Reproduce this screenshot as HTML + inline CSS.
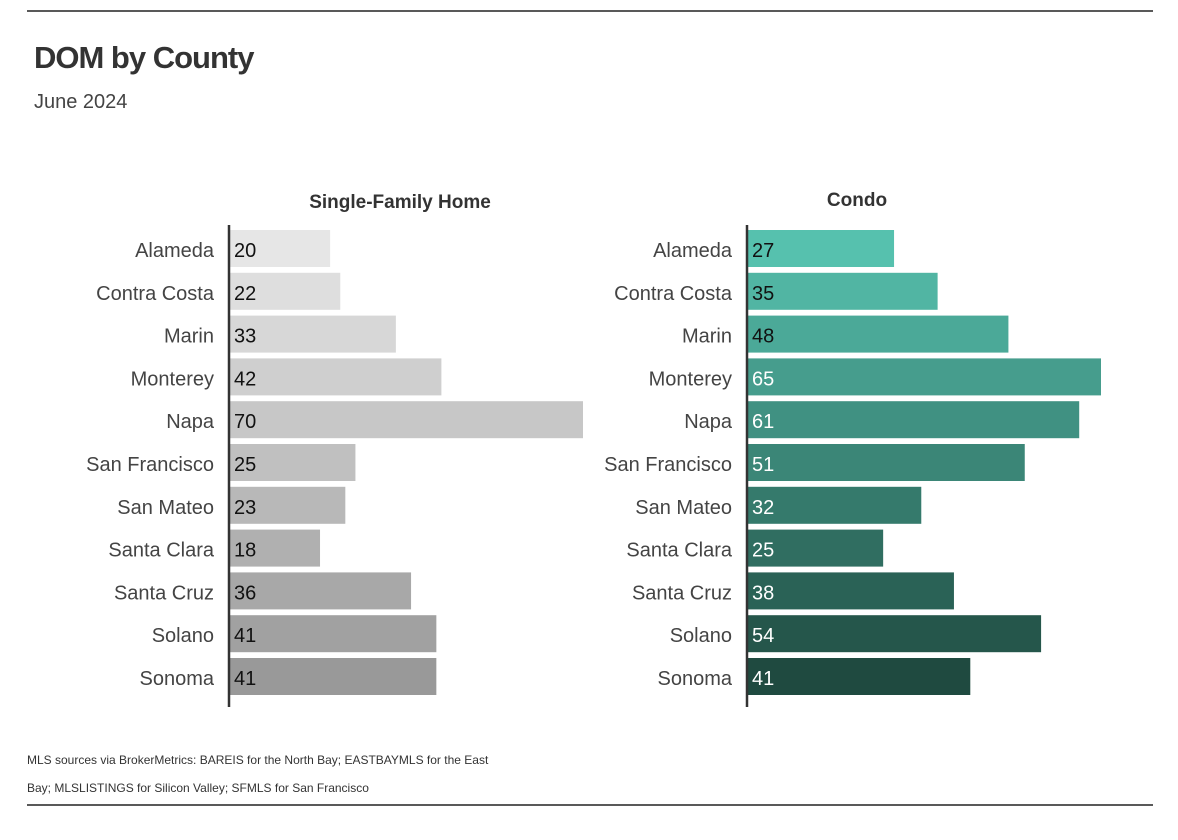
<!DOCTYPE html>
<html><head><meta charset="utf-8"><style>
body{margin:0;background:#fff;width:1178px;height:840px;overflow:hidden;font-family:"Liberation Sans",sans-serif}
</style></head><body>
<svg width="1178" height="840" style="position:absolute;left:0;top:0">
<line x1="27" y1="11" x2="1153" y2="11" stroke="#222" stroke-width="1.5"/>
<line x1="27" y1="805" x2="1153" y2="805" stroke="#222" stroke-width="1.5"/>
<text x="34" y="68" font-size="31" font-weight="bold" fill="#333" letter-spacing="-1">DOM by County</text>
<text x="34" y="108" font-size="20" fill="#444">June 2024</text>
<text x="400" y="208" font-size="19" font-weight="bold" fill="#333" text-anchor="middle">Single-Family Home</text>
<text x="857" y="206" font-size="19" font-weight="bold" fill="#333" text-anchor="middle">Condo</text>
<g id="left"></g>
<g id="right"></g>
<text x="27" y="764" font-size="12" fill="#333">MLS sources via BrokerMetrics: BAREIS for the North Bay; EASTBAYMLS for the East</text>
<text x="27" y="792" font-size="12" fill="#333">Bay; MLSLISTINGS for Silicon Valley; SFMLS for San Francisco</text>
</svg>
<script>
const counties=["Alameda","Contra Costa","Marin","Monterey","Napa","San Francisco","San Mateo","Santa Clara","Santa Cruz","Solano","Sonoma"];
const sfhValues=[20,22,33,42,70,25,23,18,36,41,41];
const condoValues=[27,35,48,65,61,51,32,25,38,54,41];
const NS="http://www.w3.org/2000/svg";
function lerp(a,b,t){return Math.round(a+(b-a)*t);}
function col(c1,c2,t){return `rgb(${lerp(c1[0],c2[0],t)},${lerp(c1[1],c2[1],t)},${lerp(c1[2],c2[2],t)})`;}
function panel(gid,axisX,vals,c1,c2,darkFrom,prefix){
  const g=document.getElementById(gid);
  const max=Math.max(...vals);
  const x=v=>v/max*354;
  const y=i=>249+i*42.8;
  vals.forEach((v,i)=>{
    const r=document.createElementNS(NS,"rect");
    r.setAttribute("x",axisX);r.setAttribute("y",y(i)-19);
    r.setAttribute("width",x(v));r.setAttribute("height",37);
    r.setAttribute("fill",col(c1,c2,i/(vals.length-1)));
    
    
    g.appendChild(r);
    const t=document.createElementNS(NS,"text");
    t.setAttribute("x",axisX+5);t.setAttribute("y",y(i)+8);
    t.setAttribute("font-size","20");
    t.setAttribute("fill",i>=darkFrom?"#fff":"#111");
    t.textContent=v;
    
    
    g.appendChild(t);
    const l=document.createElementNS(NS,"text");
    l.setAttribute("x",axisX-15);l.setAttribute("y",y(i)+8);
    l.setAttribute("font-size","20");l.setAttribute("fill","#444");
    l.setAttribute("text-anchor","end");
    l.textContent=counties[i];
    
    
    g.appendChild(l);
  });
  const a=document.createElementNS(NS,"line");
  a.setAttribute("x1",axisX);a.setAttribute("x2",axisX);
  a.setAttribute("y1",225);a.setAttribute("y2",707);
  a.setAttribute("stroke","#333");a.setAttribute("stroke-width","2.5");
  
  
  g.appendChild(a);
}
panel("left",229,sfhValues,[230,230,230],[153,153,153],99,"sfh");
panel("right",747,condoValues,[86,193,174],[31,74,64],3,"condo");
</script>
</body></html>
